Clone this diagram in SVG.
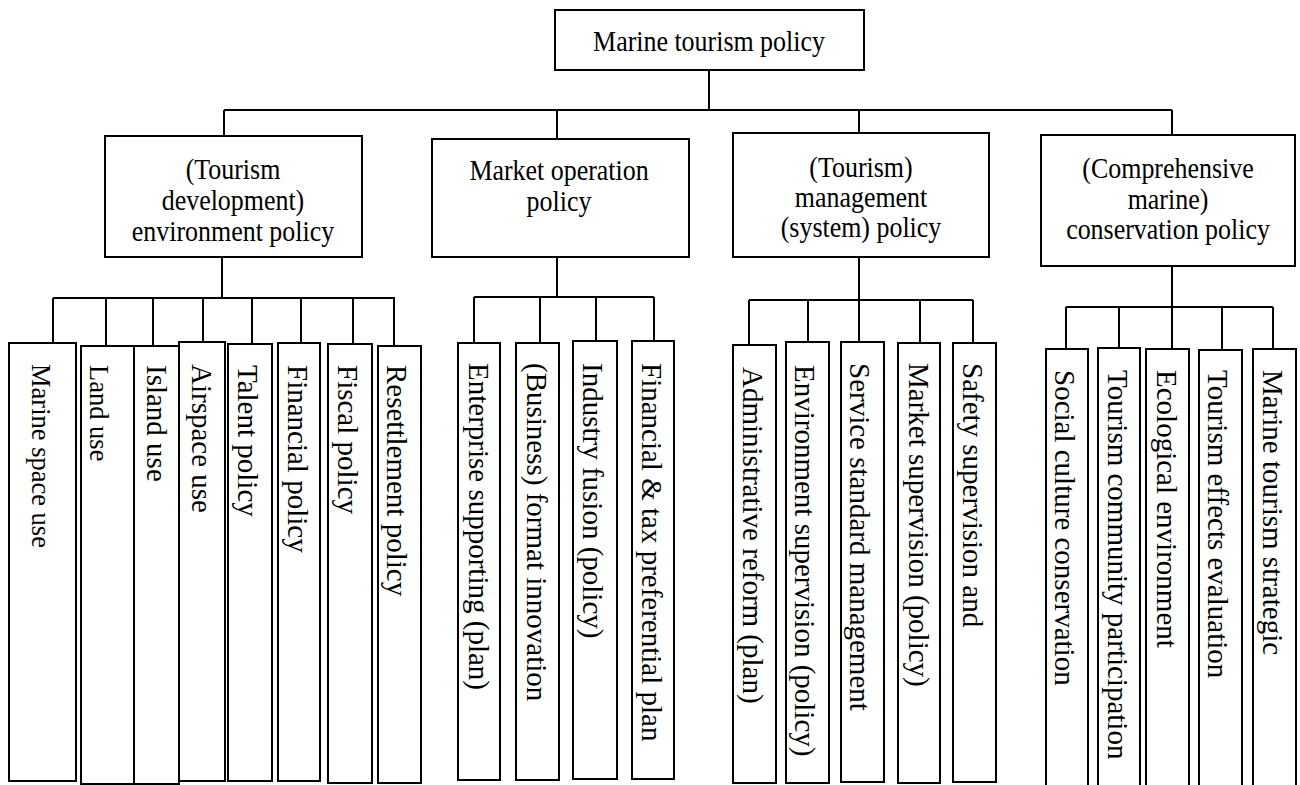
<svg xmlns="http://www.w3.org/2000/svg" width="1300" height="785" viewBox="0 0 1300 785">
  <style>
    .box { fill: #ffffff; stroke: #000000; stroke-width: 2; }
    .wire { fill: none; stroke: #000000; stroke-width: 2; }
    .lbl { font-family: "Liberation Serif", "Times New Roman", serif; font-size: 28.5px; fill: #000000; text-anchor: middle; }
    .leaf { font-family: "Liberation Serif", "Times New Roman", serif; font-size: 29px; fill: #000000; }
    .leaf.small { font-size: 26.5px; }
  </style>
  <rect width="1300" height="785" fill="#ffffff"/>

  <!-- connectors -->
  <g id="connectors" class="wire">
    <path d="M709,70 V110 M224,110 H1172 M224,110 V136 M557,110 V139 M859,110 V133 M1172,110 V135"/>
    <!-- environment policy branch -->
    <path d="M222,257 V298 M53,298 H395 M53,298 V343 M106,298 V346 M153,298 V346 M203,298 V342 M252,298 V344 M301,298 V343 M353,298 V344 M394,298 V346"/>
    <!-- market operation branch -->
    <path d="M557,257 V297 M474,297 H654 M474,297 V343 M540,297 V343 M596,297 V341 M654,297 V341"/>
    <!-- management branch -->
    <path d="M859,257 V342 M749,300 H973 M749,300 V345 M808,300 V342 M920,300 V343 M973,300 V343"/>
    <!-- conservation branch -->
    <path d="M1172,266 V349 M1066,307 H1273 M1066,307 V349 M1119,307 V348 M1222,307 V350 M1273,307 V349"/>
  </g>

  <!-- root -->
  <g id="root">
    <rect class="box" x="555" y="10" width="309" height="60"/>
    <text class="lbl" transform="translate(709,51) scale(0.91,1)">Marine tourism policy</text>
  </g>

  <!-- second level (labels use a slightly condensed serif) -->
  <g id="environment-policy">
    <rect class="box" x="105" y="136" width="257" height="121"/>
    <text class="lbl" transform="translate(233,179) scale(0.91,1)">(Tourism</text>
    <text class="lbl" transform="translate(233,210) scale(0.91,1)">development)</text>
    <text class="lbl" transform="translate(233,241) scale(0.91,1)">environment policy</text>
  </g>
  <g id="market-operation-policy">
    <rect class="box" x="432" y="139" width="257" height="118"/>
    <text class="lbl" transform="translate(559,180) scale(0.91,1)">Market operation</text>
    <text class="lbl" transform="translate(559,211) scale(0.91,1)">policy</text>
  </g>
  <g id="management-policy">
    <rect class="box" x="733" y="133" width="256" height="124"/>
    <text class="lbl" transform="translate(861,177) scale(0.91,1)">(Tourism)</text>
    <text class="lbl" transform="translate(861,207) scale(0.91,1)">management</text>
    <text class="lbl" transform="translate(861,237) scale(0.91,1)">(system) policy</text>
  </g>
  <g id="conservation-policy">
    <rect class="box" x="1041" y="135" width="254" height="131"/>
    <text class="lbl" transform="translate(1168,178) scale(0.91,1)">(Comprehensive</text>
    <text class="lbl" transform="translate(1168,209) scale(0.91,1)">marine)</text>
    <text class="lbl" transform="translate(1168,239) scale(0.91,1)">conservation policy</text>
  </g>

  <!-- leaves: environment policy -->
  <g id="marine-space-use">
    <rect class="box" x="9" y="343" width="67" height="438"/>
    <text class="leaf small" transform="translate(32,364) rotate(90)">Marine space use</text>
  </g>
  <g id="land-use">
    <rect class="box" x="81" y="346" width="53" height="438"/>
    <text class="leaf small" transform="translate(90,365) rotate(90)">Land use</text>
  </g>
  <g id="island-use">
    <rect class="box" x="134" y="346" width="45" height="438"/>
    <text class="leaf" transform="translate(147,365) rotate(90)">Island use</text>
  </g>
  <g id="airspace-use">
    <rect class="box" x="179" y="342" width="46" height="439"/>
    <text class="leaf" transform="translate(192,364) rotate(90)">Airspace use</text>
  </g>
  <g id="talent-policy">
    <rect class="box" x="228" y="344" width="44" height="437"/>
    <text class="leaf" transform="translate(238,365) rotate(90)">Talent policy</text>
  </g>
  <g id="financial-policy">
    <rect class="box" x="278" y="343" width="42" height="438"/>
    <text class="leaf" transform="translate(288,365) rotate(90)">Financial policy</text>
  </g>
  <g id="fiscal-policy">
    <rect class="box" x="328" y="344" width="44" height="439"/>
    <text class="leaf" transform="translate(338,365) rotate(90)">Fiscal policy</text>
  </g>
  <g id="resettlement-policy">
    <rect class="box" x="378" y="346" width="43" height="437"/>
    <text class="leaf" transform="translate(387,365) rotate(90)">Resettlement policy</text>
  </g>

  <!-- leaves: market operation -->
  <g id="enterprise-supporting">
    <rect class="box" x="458" y="343" width="42" height="437"/>
    <text class="leaf" transform="translate(469,363) rotate(90)">Enterprise supporting (plan)</text>
  </g>
  <g id="format-innovation">
    <rect class="box" x="516" y="343" width="43" height="437"/>
    <text class="leaf" transform="translate(527,363) rotate(90)">(Business) format innovation</text>
  </g>
  <g id="industry-fusion">
    <rect class="box" x="573" y="341" width="44" height="438"/>
    <text class="leaf" transform="translate(583,363) rotate(90)">Industry fusion (policy)</text>
  </g>
  <g id="tax-preferential">
    <rect class="box" x="632" y="341" width="42" height="438"/>
    <text class="leaf" transform="translate(642,363) rotate(90)">Financial &amp; tax preferential plan</text>
  </g>

  <!-- leaves: management -->
  <g id="administrative-reform">
    <rect class="box" x="733" y="345" width="43" height="438"/>
    <text class="leaf" transform="translate(743,367) rotate(90)">Administrative reform (plan)</text>
  </g>
  <g id="environment-supervision">
    <rect class="box" x="786" y="342" width="43" height="441"/>
    <text class="leaf" transform="translate(795,365) rotate(90)">Environment supervision (policy)</text>
  </g>
  <g id="service-standard">
    <rect class="box" x="841" y="342" width="43" height="440"/>
    <text class="leaf" transform="translate(850,363) rotate(90)">Service standard management</text>
  </g>
  <g id="market-supervision">
    <rect class="box" x="898" y="343" width="42" height="440"/>
    <text class="leaf" transform="translate(909,363) rotate(90)">Market supervision (policy)</text>
  </g>
  <g id="safety-supervision">
    <rect class="box" x="953" y="343" width="43" height="439"/>
    <text class="leaf" transform="translate(963,363) rotate(90)">Safety supervision and</text>
  </g>

  <!-- leaves: conservation -->
  <g id="social-culture">
    <rect class="box" x="1046" y="349" width="42" height="450"/>
    <text class="leaf" transform="translate(1055,370) rotate(90)">Social culture conservation</text>
  </g>
  <g id="community-participation">
    <rect class="box" x="1098" y="348" width="42" height="450"/>
    <text class="leaf" transform="translate(1108,370) rotate(90)">Tourism community participation</text>
  </g>
  <g id="ecological-environment">
    <rect class="box" x="1146" y="349" width="43" height="450"/>
    <text class="leaf" transform="translate(1157,370) rotate(90)">Ecological environment</text>
  </g>
  <g id="effects-evaluation">
    <rect class="box" x="1199" y="350" width="43" height="450"/>
    <text class="leaf" transform="translate(1208,370) rotate(90)">Tourism effects evaluation</text>
  </g>
  <g id="marine-tourism-strategic">
    <rect class="box" x="1253" y="349" width="43" height="450"/>
    <text class="leaf" transform="translate(1263,370) rotate(90)">Marine tourism strategic</text>
  </g>
</svg>
